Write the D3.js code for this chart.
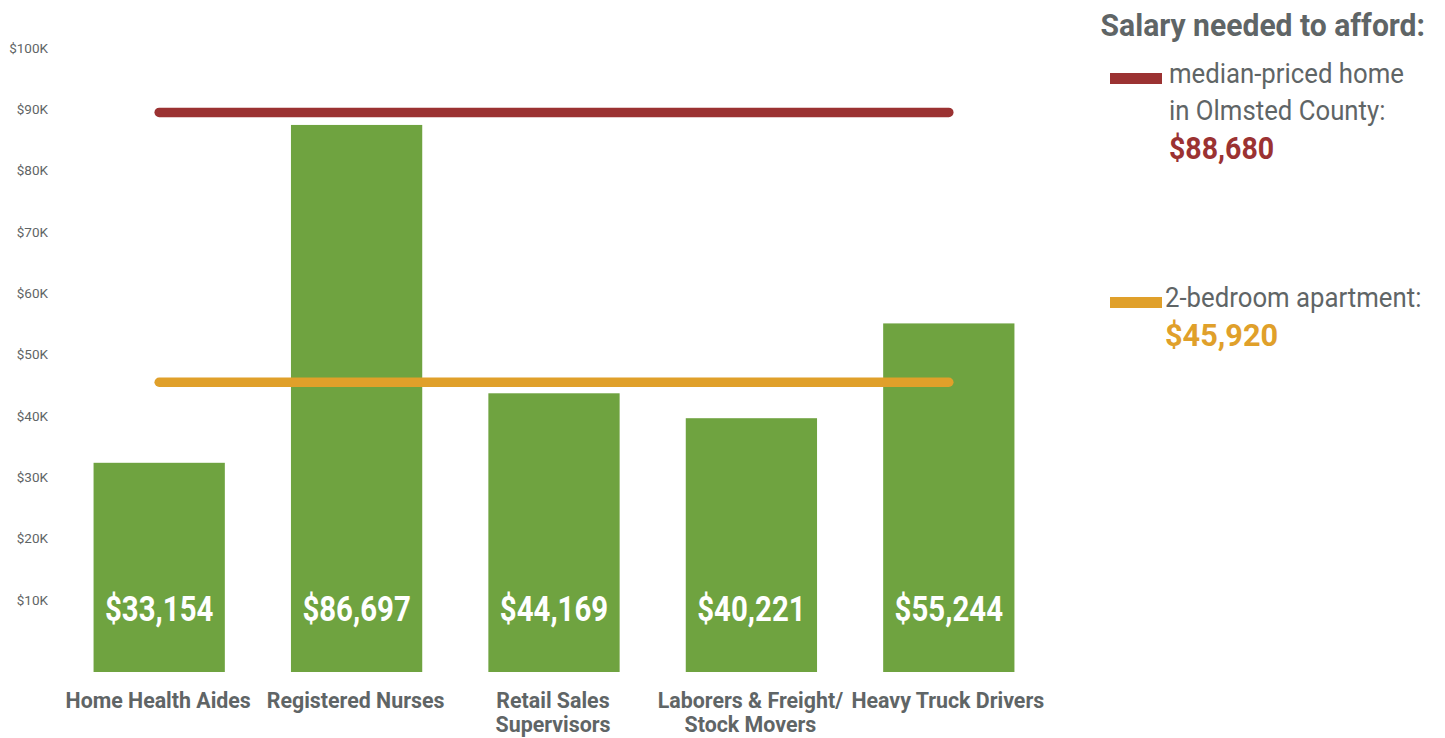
<!DOCTYPE html>
<html>
<head>
<meta charset="utf-8">
<script src="https://cdn.jsdelivr.net/npm/d3@7"></script>
<style>
  body { margin: 0; background: #fff; }
  svg { display: block; font-family: Roboto, "Noto Sans", sans-serif; }
</style>
</head>
<body>
<svg id="chart" width="1445" height="738"></svg>
<script>
var jobs = ["Home Health Aides", "Registered Nurses", "Retail Sales|Supervisors", "Laborers & Freight/|Stock Movers", "Heavy Truck Drivers"];
var salaries = [33154, 86697, 44169, 40221, 55244];
var tickValues = [10000, 20000, 30000, 40000, 50000, 60000, 70000, 80000, 90000, 100000];
var thresholdNames = ["median-priced home|in Olmsted County:", "2-bedroom apartment:"];
var thresholdValues = [88680, 45920];
var thresholdColors = ["#9b3232", "#e0a02a"];

var svg = d3.select("#chart");
var grey = "#5f6566";

var x = d3.scaleBand()
    .domain(jobs)
    .range([60, 1048])
    .paddingInner(0.335)
    .paddingOuter(0.17);

var y = d3.scaleLinear()
    .domain([0, 100000])
    .range([672, 41]);

// tick labels in the original sit a bit off the bar scale
var yLabels = d3.scaleLinear()
    .domain([10000, 100000])
    .range([600, 48]);

var money = d3.format("$,");

// fake a condensed face by squeezing Roboto horizontally
function narrowText(sel, tx, ty, sx) {
    return sel.attr("transform", function (d, i) {
        return "translate(" + tx(d, i) + "," + ty(d, i) + ") scale(" + sx + ",1)";
    });
}

// y axis labels
var axis = svg.append("g")
    .attr("transform", "translate(48,0)")
    .call(d3.axisLeft(yLabels)
        .tickValues(tickValues)
        .tickSize(0)
        .tickPadding(0)
        .tickFormat(function (d) { return "$" + (d / 1000) + "K"; }));
axis.attr("font-family", null).attr("font-size", null);
axis.select(".domain").remove();
axis.selectAll("text")
    .attr("fill", grey)
    .attr("font-size", 13.5)
    .attr("dy", "0.32em");

// bars
var data = jobs.map(function (j, i) { return { job: j, value: salaries[i] }; });

svg.append("g").selectAll("rect")
    .data(data)
    .enter().append("rect")
    .attr("x", function (d) { return x(d.job); })
    .attr("y", function (d) { return y(d.value); })
    .attr("width", x.bandwidth())
    .attr("height", function (d) { return y(0) - y(d.value); })
    .attr("fill", "#6fa340");

// value labels inside bars
narrowText(svg.append("g").selectAll("text")
    .data(data)
    .enter().append("text"),
    function (d) { return x(d.job) + x.bandwidth() / 2; },
    function () { return 621; }, 0.84)
    .attr("text-anchor", "middle")
    .attr("fill", "#fff")
    .attr("font-weight", 700)
    .attr("font-size", 35)
    .text(function (d) { return money(d.value); });

// category labels
var cat = narrowText(svg.append("g").selectAll("text")
    .data(jobs)
    .enter().append("text"),
    function (d) { return x(d) + x.bandwidth() / 2 - 1; },
    function () { return 708; }, 0.93)
    .attr("text-anchor", "middle")
    .attr("fill", grey)
    .attr("font-weight", 700)
    .attr("font-size", 23);
cat.selectAll("tspan")
    .data(function (d) { return d.split("|"); })
    .enter().append("tspan")
    .attr("x", 0)
    .attr("dy", function (d, i) { return i === 0 ? 0 : 24; })
    .text(function (d) { return d; });

// threshold lines
var first = x(jobs[0]) + x.bandwidth() / 2;
var last = x(jobs[jobs.length - 1]) + x.bandwidth() / 2;
svg.append("g").selectAll("line")
    .data(thresholdValues)
    .enter().append("line")
    .attr("x1", first)
    .attr("x2", last)
    .attr("y1", function (d) { return y(d); })
    .attr("y2", function (d) { return y(d); })
    .attr("stroke", function (d, i) { return thresholdColors[i]; })
    .attr("stroke-width", 9.5)
    .attr("stroke-linecap", "round");

// legend
narrowText(svg.append("text").datum(0), function () { return 1425; }, function () { return 36; }, 0.94)
    .attr("text-anchor", "end")
    .attr("fill", grey)
    .attr("font-weight", 700)
    .attr("font-size", 32)
    .text("Salary needed to afford:");

var legendTop = [73, 297];
var legendTextX = [59, 55];
var valueSqueeze = [0.92, 0.99];
var legend = svg.append("g").selectAll("g")
    .data(thresholdNames)
    .enter().append("g")
    .attr("transform", function (d, i) { return "translate(1110," + legendTop[i] + ")"; });

legend.append("rect")
    .attr("x", 0)
    .attr("y", 0)
    .attr("width", 52)
    .attr("height", 11)
    .attr("fill", function (d, i) { return thresholdColors[i]; });

var ltext = legend.append("text")
    .attr("transform", function (d, i) { return "translate(" + legendTextX[i] + ",10) scale(0.92,1)"; })
    .attr("fill", grey)
    .attr("font-size", 28);
ltext.selectAll("tspan")
    .data(function (d) { return d.split("|"); })
    .enter().append("tspan")
    .attr("x", 0)
    .attr("dy", function (d, i) { return i === 0 ? 0 : 37; })
    .text(function (d) { return d; });

legend.append("text")
    .attr("transform", function (d, i) {
        var lines = d.split("|").length;
        return "translate(" + legendTextX[i] + "," + (12 + lines * 37) + ") scale(" + valueSqueeze[i] + ",1)";
    })
    .attr("fill", function (d, i) { return thresholdColors[i]; })
    .attr("font-weight", 700)
    .attr("font-size", 31)
    .text(function (d, i) { return money(thresholdValues[i]); });
</script>
</body>
</html>
